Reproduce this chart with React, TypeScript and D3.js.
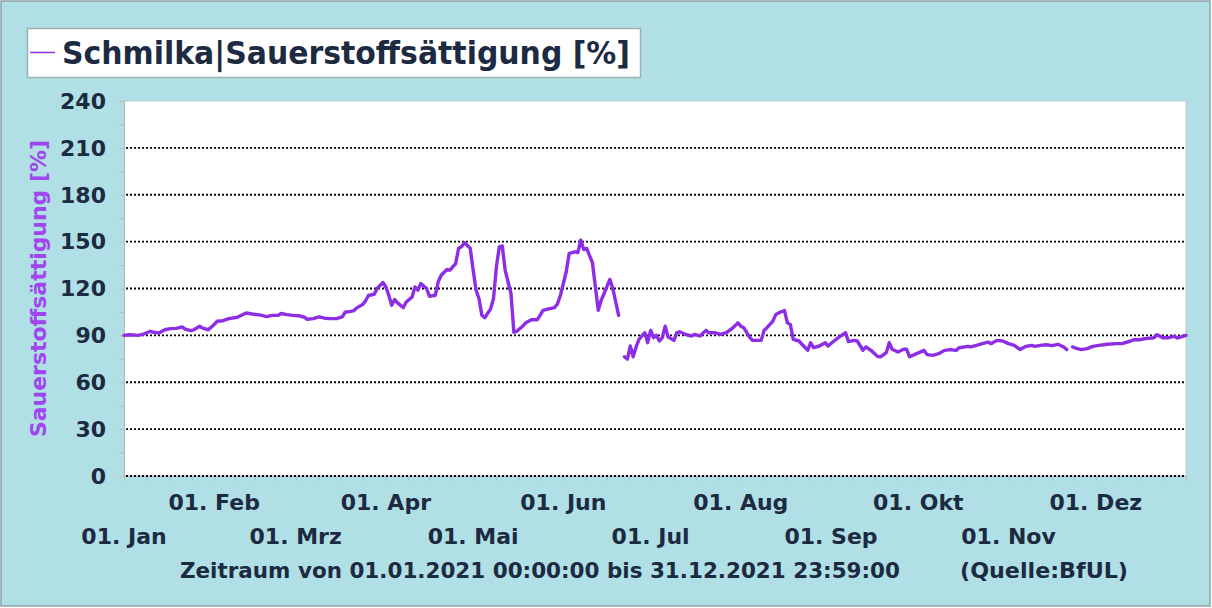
import React, { Component } from 'react';
import * as d3 from 'd3';

// daily O2 saturation, [day of year (0 = 01.01.), value %]
const firstHalf: [number, number][] = [
    [0, 90], [2, 90.4], [5, 90], [7, 91], [9, 92.6], [10, 92], [12, 91.5], [14, 93.6], [16, 94.3],
    [18, 94.5], [20, 95.4], [21, 94], [23, 93], [24, 93.6], [26, 95.8], [27, 94.7], [29, 93.6],
    [31, 96.9], [32, 99], [34, 99.4], [36, 100.7], [39, 101.6], [40, 102.6], [42, 104.3], [44, 103.7],
    [47, 103], [49, 102], [51, 102.8], [53, 102.8], [54, 104], [56, 103.3], [58, 102.8], [60, 102.6],
    [62, 101.6], [63, 100.3], [65, 100.7], [67, 101.8], [69, 101], [71, 100.7], [73, 100.7], [75, 101.8],
    [76, 104.8], [78, 105.4], [79, 105.8], [80, 107.6], [82, 109.7], [83, 112], [84, 115.5], [86, 116.3],
    [87, 120], [89, 123.8], [90, 121], [91, 115.7], [92, 109.3], [93, 113], [94, 110.8], [96, 107.8],
    [97, 111.4], [99, 114.5], [100, 121], [101, 118.9], [102, 123.2], [104, 120], [105, 115], [107, 115.7],
    [108, 124.3], [109, 128.5], [111, 132.2], [112, 131.8], [114, 136], [115, 145.7], [116, 146.7],
    [117, 149.3], [119, 145.7], [120, 131.8], [121, 118.9], [122, 113.6], [123, 102.8], [124, 101.3],
    [126, 107], [127, 113.6], [128, 134], [129, 146.7], [130, 147.2], [131, 131.8], [133, 116.8],
    [134, 92], [135, 92.6], [137, 95.8], [138, 97.9], [140, 100], [142, 100], [143, 102.8], [144, 106],
    [146, 107], [148, 107.8], [149, 110.3], [150, 115.7], [151, 123.2], [152, 130.7], [153, 142.5],
    [155, 143.5], [156, 143], [157, 151], [158, 145], [159, 145.7], [161, 136.5], [163, 106],
    [164, 112.5], [165, 116.8], [167, 125.8], [168, 120], [170, 102.8]
];

const summerAutumn: [number, number][] = [
    [172, 76.3], [173, 74.8], [174, 83.2], [175, 76.3], [176, 82.6], [177, 87.5], [179, 91.7], [180, 85.3],
    [181, 93.2], [182, 88.5], [183, 90], [184, 86.4], [185, 88.5], [186, 95.9], [187, 88.9], [189, 86.8],
    [190, 91.7], [191, 92.3], [193, 90.6], [195, 89.6], [196, 90.6], [198, 89.6], [200, 93.2], [201, 91.7],
    [203, 91.7], [205, 90.6], [207, 91.7], [209, 94.4], [211, 98], [212, 95.9], [213, 94.9], [215, 88.9],
    [216, 86.8], [219, 86.8], [220, 93.2], [221, 94.9], [223, 99.1], [224, 103.3], [225, 104.4],
    [227, 105.9], [228, 98], [229, 97], [230, 87.5], [232, 86.4], [233, 84.3], [235, 80.5], [236, 85.3],
    [237, 82.2], [239, 83.2], [241, 85.3], [242, 83.2], [244, 86.4], [246, 89.2], [248, 91.7], [249, 86],
    [251, 86.8], [252, 86.4], [254, 80.5], [255, 82.6], [257, 80], [259, 76.5], [260, 76.3], [262, 79],
    [263, 85.3], [264, 81.1], [266, 79.4], [268, 81.1], [269, 81.1], [270, 76.3], [272, 78], [275, 80.4],
    [276, 77.7], [278, 77.2], [280, 78.3], [282, 80.4], [284, 80.9], [286, 80.4], [287, 82.1], [290, 83],
    [291, 82.6], [293, 83.6], [295, 84.7], [297, 85.7], [298, 84.7], [300, 86.8], [302, 86.4], [304, 84.7],
    [306, 83.6], [308, 80.9], [310, 83], [312, 83.6], [313, 83], [315, 83.6], [317, 84], [319, 83.4],
    [321, 84.3], [323, 82.6], [324, 80.9]
];

const december: [number, number][] = [
    [326, 82.6], [327, 81.9], [329, 80.9], [331, 81.5], [333, 83], [335, 83.6], [338, 84.3], [341, 84.7],
    [343, 84.7], [346, 86.4], [347, 87.2], [349, 87.2], [351, 87.9], [354, 88.5], [355, 90.4], [357, 88.5],
    [359, 88.5], [361, 89.4], [362, 88.3], [365, 90]
];

const yTicks = [0, 30, 60, 90, 120, 150, 180, 210, 240];
const monthNames = ['Jan', 'Feb', 'Mrz', 'Apr', 'Mai', 'Jun', 'Jul', 'Aug', 'Sep', 'Okt', 'Nov', 'Dez'];
const legendText = 'Schmilka|Sauerstoffsättigung [%]';
const yTitle = 'Sauerstoffsättigung [%]';
const periodText = 'Zeitraum von 01.01.2021 00:00:00 bis 31.12.2021 23:59:00';
const sourceText = '(Quelle:BfUL)';

const NAVY = '#1c2a42';
const PURPLE = '#8d2ee6';
const FONT = '"DejaVu Sans", Verdana, sans-serif';

class App extends Component {
    svgRef = React.createRef<SVGSVGElement>();

    componentDidMount() {
        this.draw();
    }

    draw() {
        var svg = d3.select(this.svgRef.current);
        svg.selectAll('*').remove();

        var left = 124, right = 1186, top = 101, bottom = 476;
        var toDate = (day: number) => new Date(Date.UTC(2021, 0, 1 + day));

        var xScale = d3.scaleUtc()
            .domain([toDate(0), new Date(Date.UTC(2021, 11, 31, 23, 59))])
            .range([left, right]);
        var yScale = d3.scaleLinear()
            .domain([0, 240])
            .range([bottom, top]);

        // background + frame
        svg.append('rect')
            .attr('x', 1).attr('y', 1).attr('width', 1209).attr('height', 605)
            .attr('fill', '#b0dfe5').attr('stroke', '#8fa3a8').attr('stroke-width', 1.5);

        svg.append('rect')
            .attr('x', left).attr('y', top)
            .attr('width', right - left).attr('height', bottom - top)
            .attr('fill', '#fff').attr('stroke', '#c4c8c8').attr('stroke-width', 1);

        // legend
        var legend = svg.append('g');
        legend.append('rect')
            .attr('x', 27.5).attr('y', 28.5).attr('width', 613).attr('height', 49)
            .attr('fill', '#fff').attr('stroke', '#9ab0b4').attr('stroke-width', 1.5);
        legend.append('line')
            .attr('x1', 30).attr('x2', 55).attr('y1', 52.5).attr('y2', 52.5)
            .attr('stroke', PURPLE).attr('stroke-width', 1.5);
        legend.append('text')
            .attr('x', 62).attr('y', 63.5)
            .attr('font-family', FONT).attr('font-weight', 'bold').attr('font-size', 32)
            .attr('fill', NAVY)
            .attr('textLength', 568).attr('lengthAdjust', 'spacingAndGlyphs')
            .text(legendText);

        // y grid + axis
        var grid = svg.append('g');
        grid.selectAll('line')
            .data(yTicks.filter(t => t < 240))
            .join('line')
            .attr('x1', left + 2).attr('x2', right)
            .attr('y1', d => yScale(d)).attr('y2', d => yScale(d))
            .attr('stroke', '#000').attr('stroke-width', 1.8)
            .attr('stroke-dasharray', '2 2');

        var yAxis = svg.append('g')
            .attr('transform', `translate(${left},0)`)
            .call(d3.axisLeft(yScale).tickValues(d3.range(0, 241, 15)).tickSize(5).tickFormat(() => ''));
        yAxis.select('.domain').attr('stroke', '#b8bcbc');
        yAxis.selectAll('.tick line').attr('stroke', '#b8bcbc');

        svg.append('g').selectAll('text')
            .data(yTicks)
            .join('text')
            .attr('x', 106)
            .attr('y', d => yScale(d) + 7.8)
            .attr('text-anchor', 'end')
            .attr('font-family', FONT).attr('font-weight', 'bold').attr('font-size', 22)
            .attr('fill', NAVY)
            .text(d => d);

        svg.append('text')
            .attr('transform', `translate(46,${(140 + 437) / 2}) rotate(-90)`)
            .attr('text-anchor', 'middle')
            .attr('font-family', FONT).attr('font-weight', 'bold').attr('font-size', 22)
            .attr('fill', '#a046ee')
            .attr('textLength', 297).attr('lengthAdjust', 'spacingAndGlyphs')
            .text(yTitle);

        // x axis: 4 ticks per month
        var months = d3.utcMonth.range(toDate(0), toDate(365));
        var tickDates: Date[] = [];
        months.forEach(m => {
            var next = d3.utcMonth.offset(m, 1);
            for (var k = 0; k < 4; k++) {
                tickDates.push(new Date(+m + (+next - +m) * k / 4));
            }
        });
        tickDates.push(xScale.domain()[1]);

        var xAxis = svg.append('g')
            .attr('transform', `translate(0,${bottom})`)
            .call(d3.axisBottom(xScale).tickValues(tickDates).tickSize(5).tickFormat(() => ''));
        xAxis.select('.domain').attr('stroke', '#b8bcbc');
        xAxis.selectAll('.tick line').attr('stroke', '#b8bcbc');

        svg.append('line')
            .attr('x1', left + 2).attr('x2', right)
            .attr('y1', bottom).attr('y2', bottom)
            .attr('stroke', '#000').attr('stroke-width', 1.8)
            .attr('stroke-dasharray', '2 2');

        svg.append('g').selectAll('text')
            .data(months)
            .join('text')
            .attr('x', d => xScale(d))
            .attr('y', (d, i) => i % 2 === 0 ? 543.5 : 510)
            .attr('text-anchor', 'middle')
            .attr('font-family', FONT).attr('font-weight', 'bold').attr('font-size', 22)
            .attr('fill', NAVY)
            .text((d, i) => '01. ' + monthNames[i]);

        svg.append('text')
            .attr('x', 180).attr('y', 577.5)
            .attr('font-family', FONT).attr('font-weight', 'bold').attr('font-size', 21.5)
            .attr('fill', NAVY)
            .attr('textLength', 720).attr('lengthAdjust', 'spacingAndGlyphs')
            .text(periodText);
        svg.append('text')
            .attr('x', 960).attr('y', 577.5)
            .attr('font-family', FONT).attr('font-weight', 'bold').attr('font-size', 21.5)
            .attr('fill', NAVY)
            .attr('textLength', 168).attr('lengthAdjust', 'spacingAndGlyphs')
            .text(sourceText);

        // series
        var line = d3.line<[number, number]>()
            .x(d => xScale(toDate(d[0])))
            .y(d => yScale(d[1]));

        svg.append('g').selectAll('path')
            .data([firstHalf, summerAutumn, december])
            .join('path')
            .attr('d', d => line(d))
            .attr('fill', 'none')
            .attr('stroke', PURPLE)
            .attr('stroke-width', 3.4)
            .attr('stroke-linejoin', 'round')
            .attr('stroke-linecap', 'round');
    }

    render() {
        return <div style={{ position: 'absolute', left: 0, top: 0 }}>
            <svg ref={this.svgRef} width={1212} height={608} style={{ display: 'block' }}></svg>
        </div>;
    }
}

export default App;
